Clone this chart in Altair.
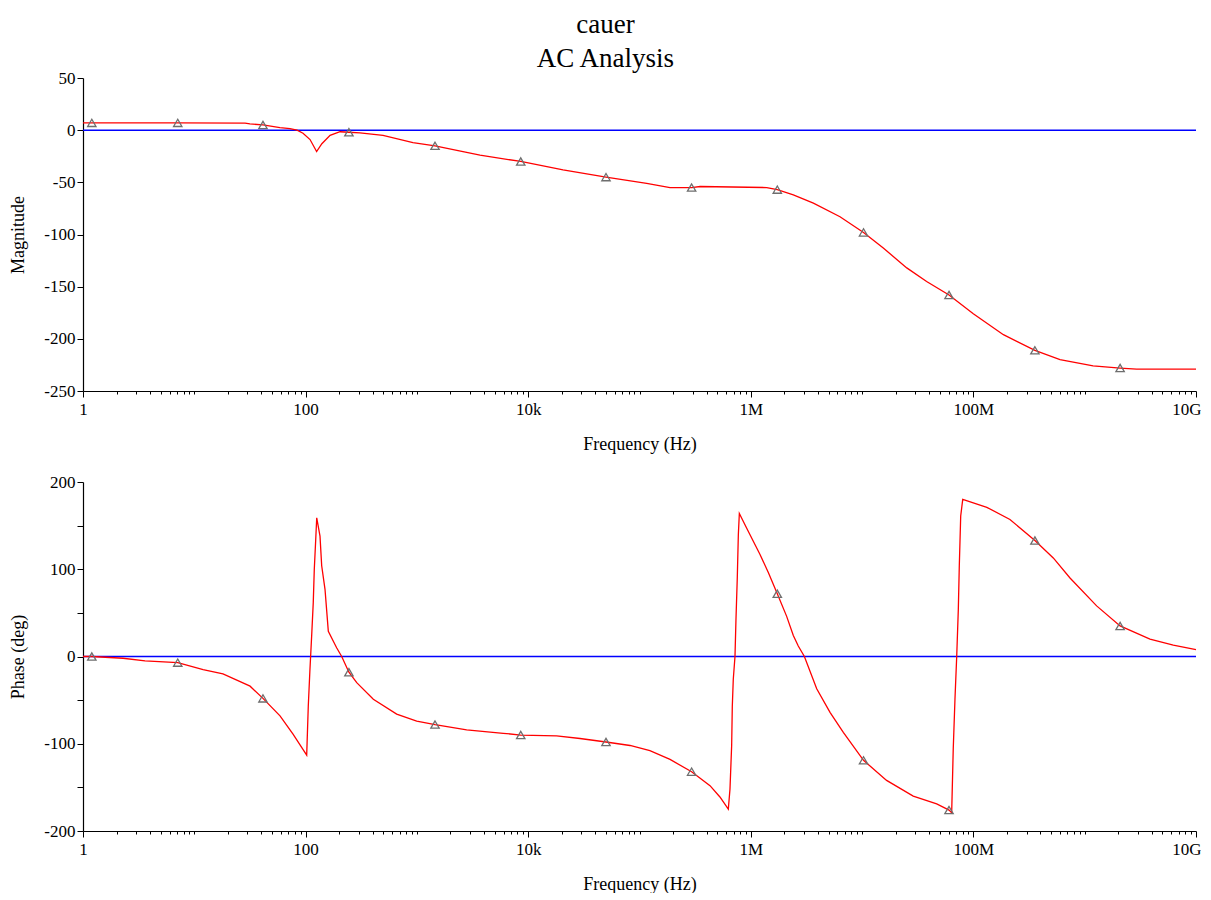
import altair as alt
import pandas as pd

FONT = "Liberation Serif"

# ---------------- data ----------------
mag_freq = [1, 1.2, 7.1, 28.6, 31.6, 41.4, 58.8, 72.4, 83.7, 94.8, 109.6, 125.6, 140,
            166, 204, 245, 308, 496, 922, 1455, 3690, 8570, 20570, 50000, 116000,
            188000, 294000, 350000, 1.39e6, 1.73e6, 2.41e6, 3.65e6, 6.33e6, 10.3e6,
            15.5e6, 25.2e6, 38e6, 60.4e6, 99.8e6, 186e6, 357e6, 600e6, 1.19e9,
            2.08e9, 2.93e9, 1e10]
mag_db = [7, 7, 7, 6.7, 6, 5, 2.5, 1.5, 0, -3, -9, -20.5, -13,
          -5, -1.5, -2, -2.5, -5, -12, -15, -24, -30, -38, -45, -51,
          -55, -55, -54, -55, -57, -62, -70, -83, -98,
          -113, -132, -145, -158, -176, -196, -211, -220, -226,
          -228, -229, -229]

ph_freq = [1, 1.2, 2.29, 3.61, 7.1, 12, 18.1, 31.7, 41.4, 58.9, 77.1, 102.3, 105.7,
           109.4, 113.4, 117.2, 119.7, 123.3, 125.9, 134.7, 139.5, 149.4, 160, 190,
           211, 245, 288, 406, 658, 996, 1455, 2800, 5970, 8570, 18000, 29200, 50000,
           82200, 124000, 188000, 294000, 430000, 528000, 628000, 650000, 673000,
           682000, 696000, 721000, 736000, 756000, 773000, 789000, 919000, 1.21e6,
           1.44e6, 1.73e6, 2.1e6, 2.41e6, 2.67e6, 3.03e6, 3.91e6, 5.15e6, 6.78e6,
           10.3e6, 16.6e6, 28.8e6, 46.8e6, 60.4e6, 63.8e6, 65.9e6, 68.3e6, 70.8e6,
           73.2e6, 74.7e6, 76.9e6, 80.2e6, 132e6, 213e6, 357e6, 522e6, 738e6,
           1.28e9, 2.08e9, 3.86e9, 6.25e9, 1e10]
ph_deg = [0, 0, -2, -5, -7, -15, -20, -34, -48, -68, -89, -113, -57,
          -15, 24, 62, 100, 134, 159, 138, 104, 77, 29, 10,
          0, -18, -30, -49, -66, -74, -78, -84, -88, -90, -91, -94, -98,
          -102, -108, -118, -132, -148, -161, -175, -152, -102,
          -57, -26, 0, 43, 90, 140, 164, 147, 117,
          96, 72, 46, 24, 12, 0, -37, -64, -87,
          -119, -142, -160, -169, -176, -179, -106, -49, 0,
          54, 104, 161, 180, 171, 157, 133, 113, 90,
          58, 35, 20, 13, 8]

marker_freq = [1.2, 7.1, 41.4, 245, 1455, 8570, 50000, 294000, 1.73e6, 10.3e6,
               60.4e6, 357e6, 2.08e9]

x_label_vals = [1, 100, 1e4, 1e6, 1e8, 1e10]
x_label_txt = ["1", "100", "10k", "1M", "100M", "10G"]
mag_ticks = [50, 0, -50, -100, -150, -200, -250]
ph_ticks = [200, 150, 100, 50, 0, -50, -100, -150, -200]

# ---------------- frames ----------------
mag = pd.DataFrame({"f": mag_freq, "v": mag_db})
ph = pd.DataFrame({"f": ph_freq, "v": ph_deg})
mag_lookup = dict(zip(mag_freq, mag_db))
ph_lookup = dict(zip(ph_freq, ph_deg))
mag_m = pd.DataFrame({"f": marker_freq, "v": [mag_lookup[f] for f in marker_freq]})
ph_m = pd.DataFrame({"f": marker_freq, "v": [ph_lookup[f] for f in marker_freq]})
zero = pd.DataFrame({"v": [0]})

# x axis: minor ticks at every 1..9 x decade, labels on even decades
x_ticks = [m * 10 ** d for d in range(10) for m in range(1, 10)] + [1e10]
lab_expr = "''"
for v, t in reversed(list(zip(x_label_vals, x_label_txt))):
    lab_expr = f"(abs(datum.value - {v}) < {v}*1e-6) ? '{t}' : ({lab_expr})"
major_test = " || ".join(f"abs(datum.value - {v}) < {v}*1e-6" for v in x_label_vals)
last_test = f"datum.value > {x_label_vals[-1]}*0.999"

x_axis = alt.Axis(
    values=x_ticks, labelExpr=lab_expr, title="Frequency (Hz)", grid=False,
    tickSize={"condition": {"test": major_test, "value": 6}, "value": 3},
    labelAlign={"condition": {"test": last_test, "value": "right"}, "value": "center"},
    labelOffset={"condition": {"test": last_test, "value": 5}, "value": 0},
    labelPadding=4, titlePadding=18, labelFlush=False, labelOverlap=False,
)
x_scale = alt.Scale(type="log", domain=[1, 1e10], nice=False)

W = 1113


def panel(line_df, mark_df, title, ticks, domain, height, label_expr):
    x = alt.X("f:Q", scale=x_scale, axis=x_axis)
    y = alt.Y("v:Q", scale=alt.Scale(domain=domain, nice=False, zero=False),
              axis=alt.Axis(values=ticks, title=title, grid=False, labelExpr=label_expr,
                            tickSize=6, labelPadding=2, titlePadding=16))
    rule = alt.Chart(zero).mark_rule(color="#0000ff", strokeWidth=1.5).encode(y=alt.Y("v:Q"))
    line = alt.Chart(line_df).mark_line(color="#ff0000", strokeWidth=1.3).encode(x=x, y=y)
    pts = alt.Chart(mark_df).mark_point(shape="triangle-up", filled=False, color="#6e6e6e",
                                        size=70, strokeWidth=1.3, opacity=1).encode(x=x, y=y)
    return alt.layer(rule, line, pts).properties(width=W, height=height)


top = panel(mag, mag_m, "Magnitude", mag_ticks, [-250, 50], 313, "'' + datum.value")
bot = panel(ph, ph_m, "Phase (deg)", ph_ticks, [-200, 200], 349,
            "(datum.value % 100 == 0) ? ('' + datum.value) : ''")

chart = alt.vconcat(top, bot, spacing=20).properties(
    title=alt.TitleParams(["cauer", "AC Analysis"], font=FONT, fontSize=27,
                          fontWeight="normal", anchor="middle", lineHeight=34,
                          offset=-4, color="black"),
    padding={"left": 1, "top": 3, "right": 0, "bottom": 0},
).configure_axis(
    labelFont=FONT, labelFontSize=17, labelColor="black",
    titleFont=FONT, titleFontSize=18, titleFontWeight="normal", titleColor="black",
    domainColor="black", tickColor="black", domainWidth=1.2,
).configure_view(stroke=None)

chart.save("out.html", embed_options={"renderer": "svg", "actions": False})
